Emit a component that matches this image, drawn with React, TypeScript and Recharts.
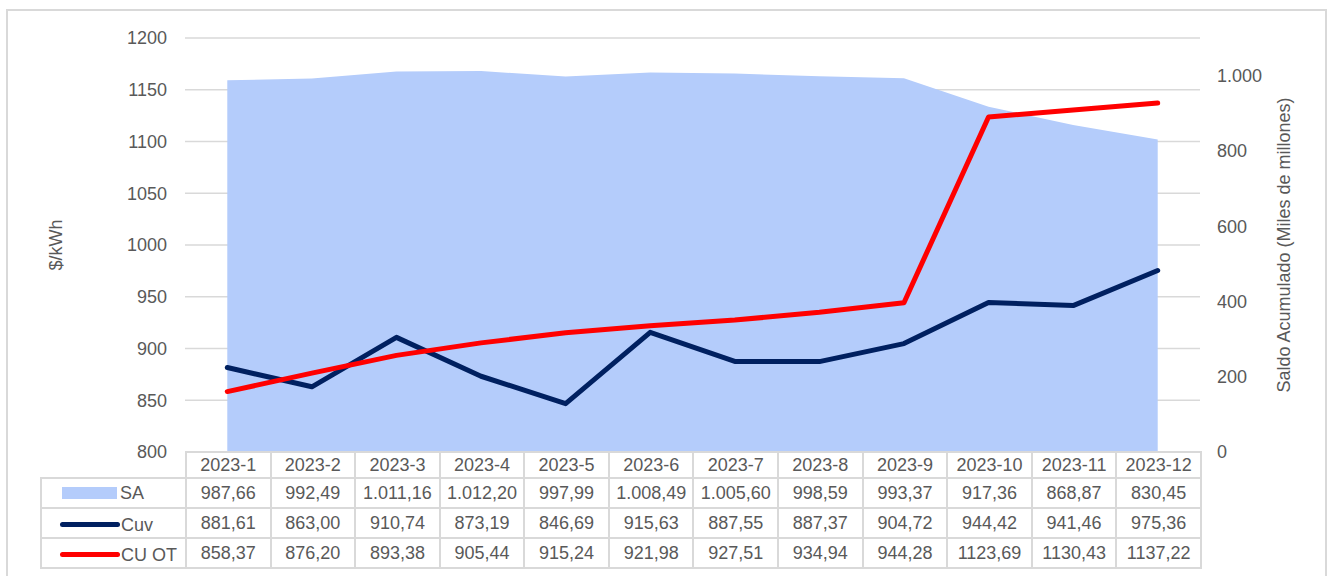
import { Area, CartesianGrid, ComposedChart, Line, XAxis, YAxis } from "recharts";

const MONTHS = [
  "2023-1", "2023-2", "2023-3", "2023-4", "2023-5", "2023-6",
  "2023-7", "2023-8", "2023-9", "2023-10", "2023-11", "2023-12",
];
const SA = [987.66, 992.49, 1011.16, 1012.2, 997.99, 1008.49, 1005.6, 998.59, 993.37, 917.36, 868.87, 830.45];
const CUV = [881.61, 863.0, 910.74, 873.19, 846.69, 915.63, 887.55, 887.37, 904.72, 944.42, 941.46, 975.36];
const CU_OT = [858.37, 876.2, 893.38, 905.44, 915.24, 921.98, 927.51, 934.94, 944.28, 1123.69, 1130.43, 1137.22];
const LEFT_TICKS = [800, 850, 900, 950, 1000, 1050, 1100, 1150, 1200];
const RIGHT_TICKS = [0, 200, 400, 600, 800, 1000];

const SA_COLOR = "#b4ccfb";
const CUV_COLOR = "#002060";
const CUOT_COLOR = "#ff0000";
const TEXT = "#595959";
const GRID = "#d9d9d9";
const FONT = "'Liberation Sans', Arial, sans-serif";

const W = 1331;
const H = 576;
const PLOT_L = 185;
const PLOT_R = 1200;
const PLOT_T = 38;
const PLOT_B = 452;
const MID_Y = (PLOT_T + PLOT_B) / 2;

const data = MONTHS.map((m, i) => ({ month: m, sa: SA[i], cuv: CUV[i], cuot: CU_OT[i] }));

// es-CO style: "," decimals, optional "." thousands grouping
function fmt(v: number, group: boolean) {
  const [int, dec] = v.toFixed(2).split(".");
  const i = group ? int.replace(/\B(?=(\d{3})+(?!\d))/g, ".") : int;
  return `${i},${dec}`;
}

const rows = [
  { name: "SA", values: SA, group: true, swatch: "area", color: SA_COLOR },
  { name: "Cuv", values: CUV, group: false, swatch: "line", color: CUV_COLOR },
  { name: "CU OT", values: CU_OT, group: false, swatch: "line", color: CUOT_COLOR },
];

const tick = { fontSize: 18, fill: TEXT, fontFamily: FONT };

function DataTable() {
  const colW = (PLOT_R - PLOT_L) / MONTHS.length;
  const cell: React.CSSProperties = {
    border: `2px solid ${GRID}`,
    padding: 0,
    textAlign: "center",
    color: TEXT,
    fontSize: 18,
    fontFamily: FONT,
    whiteSpace: "nowrap",
    overflow: "hidden",
    lineHeight: "20px",
  };
  return (
    <table
      style={{
        position: "absolute",
        left: 40,
        top: PLOT_B - 1,
        borderCollapse: "collapse",
        tableLayout: "fixed",
        width: PLOT_R - 40,
      }}
    >
      <colgroup>
        <col style={{ width: PLOT_L - 40 }} />
        {MONTHS.map((m) => (
          <col key={m} style={{ width: colW }} />
        ))}
      </colgroup>
      <tbody>
        <tr style={{ height: 26 }}>
          <td style={{ ...cell, border: "none", borderBottom: `2px solid ${GRID}` }} />
          {MONTHS.map((m) => (
            <td key={m} style={cell}>{m}</td>
          ))}
        </tr>
        {rows.map((r) => (
          <tr key={r.name} style={{ height: 30 }}>
            <td style={{ ...cell, textAlign: "left" }}>
              <span style={{ display: "inline-flex", alignItems: "center" }}>
                {r.swatch === "area" ? (
                  <span style={{ display: "inline-block", width: 55, height: 12, background: r.color, marginLeft: 20, marginRight: 3 }} />
                ) : (
                  <span style={{ display: "inline-block", width: 60, height: 5, borderRadius: 3, background: r.color, marginLeft: 18, marginRight: 1 }} />
                )}
                {r.name}
              </span>
            </td>
            {r.values.map((v, i) => (
              <td key={i} style={cell}>{fmt(v, r.group)}</td>
            ))}
          </tr>
        ))}
      </tbody>
    </table>
  );
}

export default function App() {
  return (
    <div style={{ position: "absolute", left: 0, top: 0, width: W, height: H, background: "#fff", overflow: "hidden" }}>
      <div
        style={{
          position: "absolute",
          left: 6,
          top: 9,
          width: 1321,
          height: 600,
          border: `2px solid ${GRID}`,
          boxSizing: "border-box",
        }}
      />
      <div style={{ position: "absolute", left: 0, top: 0 }}>
        <ComposedChart
          width={W}
          height={H}
          data={data}
          margin={{ top: PLOT_T, right: 0, bottom: H - PLOT_B, left: 0 }}
        >
          <CartesianGrid stroke={GRID} strokeWidth={1.5} vertical={false} yAxisId="left" />
          <XAxis dataKey="month" scale="band" hide />
          <YAxis
            yAxisId="left"
            width={PLOT_L}
            domain={[800, 1200]}
            ticks={LEFT_TICKS}
            tick={tick}
            tickSize={0}
            tickMargin={18}
            axisLine={false}
            tickLine={false}
            label={{
              content: () => (
                <text
                  x={62}
                  y={MID_Y}
                  transform={`rotate(-90 62 ${MID_Y})`}
                  textAnchor="middle"
                  fontSize={18}
                  fill={TEXT}
                  fontFamily={FONT}
                >
                  $/kWh
                </text>
              ),
            }}
          />
          <YAxis
            yAxisId="right"
            orientation="right"
            width={W - PLOT_R}
            domain={[0, 1100]}
            ticks={RIGHT_TICKS}
            tickFormatter={(v: number) => (v >= 1000 ? v.toString().replace(/\B(?=(\d{3})+(?!\d))/g, ".") : String(v))}
            tick={{ ...tick, textAnchor: "start" }}
            tickSize={0}
            tickMargin={17}
            axisLine={false}
            tickLine={false}
            label={{
              content: () => (
                <text
                  x={1290}
                  y={MID_Y}
                  transform={`rotate(-90 1290 ${MID_Y})`}
                  textAnchor="middle"
                  fontSize={18}
                  fill={TEXT}
                  fontFamily={FONT}
                >
                  Saldo Acumulado (Miles de millones)
                </text>
              ),
            }}
          />
          <Area
            yAxisId="right"
            dataKey="sa"
            type="linear"
            fill={SA_COLOR}
            fillOpacity={1}
            stroke="none"
            isAnimationActive={false}
          />
          <Line
            yAxisId="left"
            dataKey="cuv"
            type="linear"
            stroke={CUV_COLOR}
            strokeWidth={5}
            strokeLinecap="round"
            strokeLinejoin="round"
            dot={false}
            isAnimationActive={false}
          />
          <Line
            yAxisId="left"
            dataKey="cuot"
            type="linear"
            stroke={CUOT_COLOR}
            strokeWidth={5}
            strokeLinecap="round"
            strokeLinejoin="round"
            dot={false}
            isAnimationActive={false}
          />
        </ComposedChart>
      </div>
      <DataTable />
    </div>
  );
}
